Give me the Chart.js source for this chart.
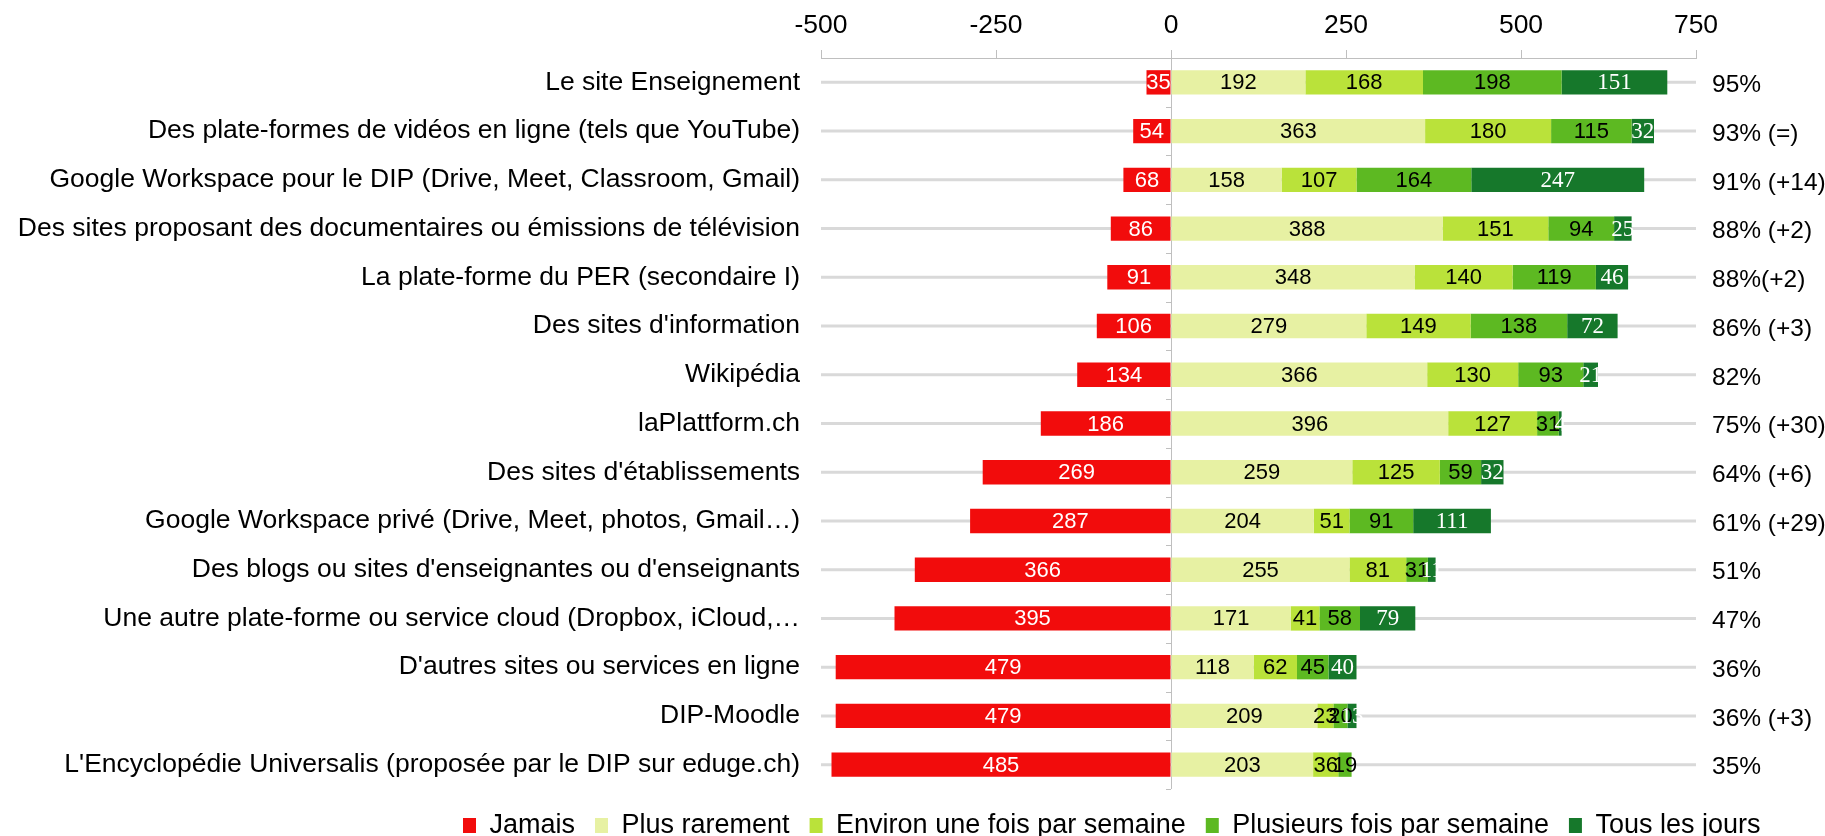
<!DOCTYPE html>
<html>
<head>
<meta charset="utf-8">
<script src="https://cdn.jsdelivr.net/npm/chart.js@4"></script>
<style>
  body { margin: 0; background: #fff; }
  #wrap { position: relative; width: 1825px; height: 836px; }
</style>
</head>
<body>
<div id="wrap"><canvas id="chart"></canvas></div>
<script>
const labels = [
    'Le site Enseignement',
    'Des plate-formes de vidéos en ligne (tels que YouTube)',
    'Google Workspace pour le DIP (Drive, Meet, Classroom, Gmail)',
    'Des sites proposant des documentaires ou émissions de télévision',
    'La plate-forme du PER (secondaire I)',
    "Des sites d'information",
    'Wikipédia',
    'laPlattform.ch',
    "Des sites d'établissements",
    'Google Workspace privé (Drive, Meet, photos, Gmail…)',
    "Des blogs ou sites d'enseignantes ou d'enseignants",
    'Une autre plate-forme ou service cloud (Dropbox, iCloud,…',
    "D'autres sites ou services en ligne",
    'DIP-Moodle',
    "L'Encyclopédie Universalis (proposée par le DIP sur eduge.ch)"
]
const jamais = [-35, -54, -68, -86, -91, -106, -134, -186, -269, -287, -366, -395, -479, -479, -485]
const rarement = [192, 363, 158, 388, 348, 279, 366, 396, 259, 204, 255, 171, 118, 209, 203]
const hebdo = [168, 180, 107, 151, 140, 149, 130, 127, 125, 51, 81, 41, 62, 23, 36]
const plusieurs = [198, 115, 164, 94, 119, 138, 93, 31, 59, 91, 31, 58, 45, 20, 19]
const quotidien = [151, 32, 247, 25, 46, 72, 21, 4, 32, 111, 11, 79, 40, 13, 0]
const pourcentages = ['95%', '93% (=)', '91% (+14)', '88% (+2)', '88%(+2)', '86% (+3)', '82%', '75% (+30)',
    '64% (+6)', '61% (+29)', '51%', '47%', '36%', '36% (+3)', '35%']
const xTicks = [-500, -250, 0, 250, 500, 750]

const FONT = "'Liberation Sans', Arial, sans-serif"
const SERIF = "'Liberation Serif', 'Times New Roman', serif"

// lignes grises derrière les barres + petites graduations sur l'axe 0
const rowLines = {
    id: 'rowLines',
    beforeDatasetsDraw(chart) {
        const { ctx, scales: { x, y } } = chart
        ctx.save()
        ctx.strokeStyle = '#D9D9D9'
        ctx.lineWidth = 3
        labels.forEach((l, i) => {
            const py = y.getPixelForValue(i)
            ctx.beginPath()
            ctx.moveTo(x.getPixelForValue(xTicks[0]), py)
            ctx.lineTo(x.getPixelForValue(xTicks[xTicks.length - 1]), py)
            ctx.stroke()
        })
        const x0 = x.getPixelForValue(0)
        ctx.strokeStyle = '#BFBFBF'
        ctx.lineWidth = 1
        for (let i = 0; i <= labels.length; i++) {
            const py = Math.round(y.getPixelForValue(i - 0.5)) + 0.5
            ctx.beginPath()
            ctx.moveTo(x0 - 5, py)
            ctx.lineTo(x0, py)
            ctx.stroke()
        }
        ctx.restore()
    }
}

// étiquettes de valeurs dans les barres + pourcentages à droite
const valueLabels = {
    id: 'valueLabels',
    afterDatasetsDraw(chart) {
        const { ctx, scales: { x, y } } = chart
        ctx.save()
        ctx.textAlign = 'center'
        ctx.textBaseline = 'middle'
        chart.data.datasets.forEach((ds, di) => {
            const meta = chart.getDatasetMeta(di)
            meta.data.forEach((bar, i) => {
                const v = ds.data[i]
                if (!v) return
                ctx.fillStyle = ds.labelColor
                ctx.font = ds.labelFont
                ctx.fillText(Math.abs(v), (bar.x + bar.base) / 2, bar.y + 1)
            })
        })
        ctx.textAlign = 'left'
        ctx.fillStyle = '#000'
        ctx.font = '24.5px ' + FONT
        pourcentages.forEach((p, i) => {
            ctx.fillText(p, x.right + 16, y.getPixelForValue(i) + 3)
        })
        ctx.restore()
    }
}

// légende décalée comme dans l'original
const legendShift = {
    id: 'legendShift',
    afterLayout(chart) {
        const lg = chart.legend
        const w = lg.right - lg.left
        lg.left = 443
        lg.right = 443 + w
        lg.top += 3
        lg.bottom += 3
    }
}

new Chart(document.getElementById('chart'), {
    type: 'bar',
    data: {
        labels: labels,
        datasets: [
            { label: 'Jamais', data: jamais, backgroundColor: '#F20C0C', labelColor: '#fff', labelFont: '22px ' + FONT },
            { label: 'Plus rarement', data: rarement, backgroundColor: '#E7F1A3', labelColor: '#000', labelFont: '22px ' + FONT },
            { label: 'Environ une fois par semaine', data: hebdo, backgroundColor: '#BAE23A', labelColor: '#000', labelFont: '22px ' + FONT },
            { label: 'Plusieurs fois par semaine', data: plusieurs, backgroundColor: '#5DB922', labelColor: '#000', labelFont: '22px ' + FONT },
            { label: 'Tous les jours', data: quotidien, backgroundColor: '#16782B', labelColor: '#fff', labelFont: '23px ' + SERIF }
        ]
    },
    options: {
        indexAxis: 'y',
        responsive: true,
        maintainAspectRatio: false,
        animation: false,
        layout: { padding: { right: 129, bottom: -10 } },
        datasets: { bar: { categoryPercentage: 1, barPercentage: 0.5 } },
        scales: {
            x: {
                position: 'top',
                stacked: true,
                min: -500,
                max: 750,
                afterBuildTicks: (scale) => { scale.ticks = xTicks.map(v => ({ value: v })) },
                afterFit: (scale) => { scale.height = 58 },
                ticks: { color: '#000', font: { family: FONT, size: 26.5 }, padding: 8 },
                grid: {
                    color: (c) => c.tick && c.tick.value === 0 ? '#BFBFBF' : 'transparent',
                    tickColor: '#BFBFBF',
                    tickLength: 8
                },
                border: { color: '#BFBFBF' }
            },
            y: {
                stacked: true,
                afterFit: (scale) => { scale.width = 821 },
                ticks: { color: '#000', font: { family: FONT, size: 26.5 }, padding: 13 },
                grid: { display: false },
                border: { display: false }
            }
        },
        plugins: {
            legend: {
                position: 'bottom',
                align: 'start',
                labels: {
                    color: '#000',
                    font: { family: FONT, size: 27 },
                    boxWidth: 13,
                    boxHeight: 15,
                    padding: 20
                }
            },
            tooltip: { enabled: false }
        }
    },
    plugins: [rowLines, valueLabels, legendShift]
})
</script>
</body>
</html>
